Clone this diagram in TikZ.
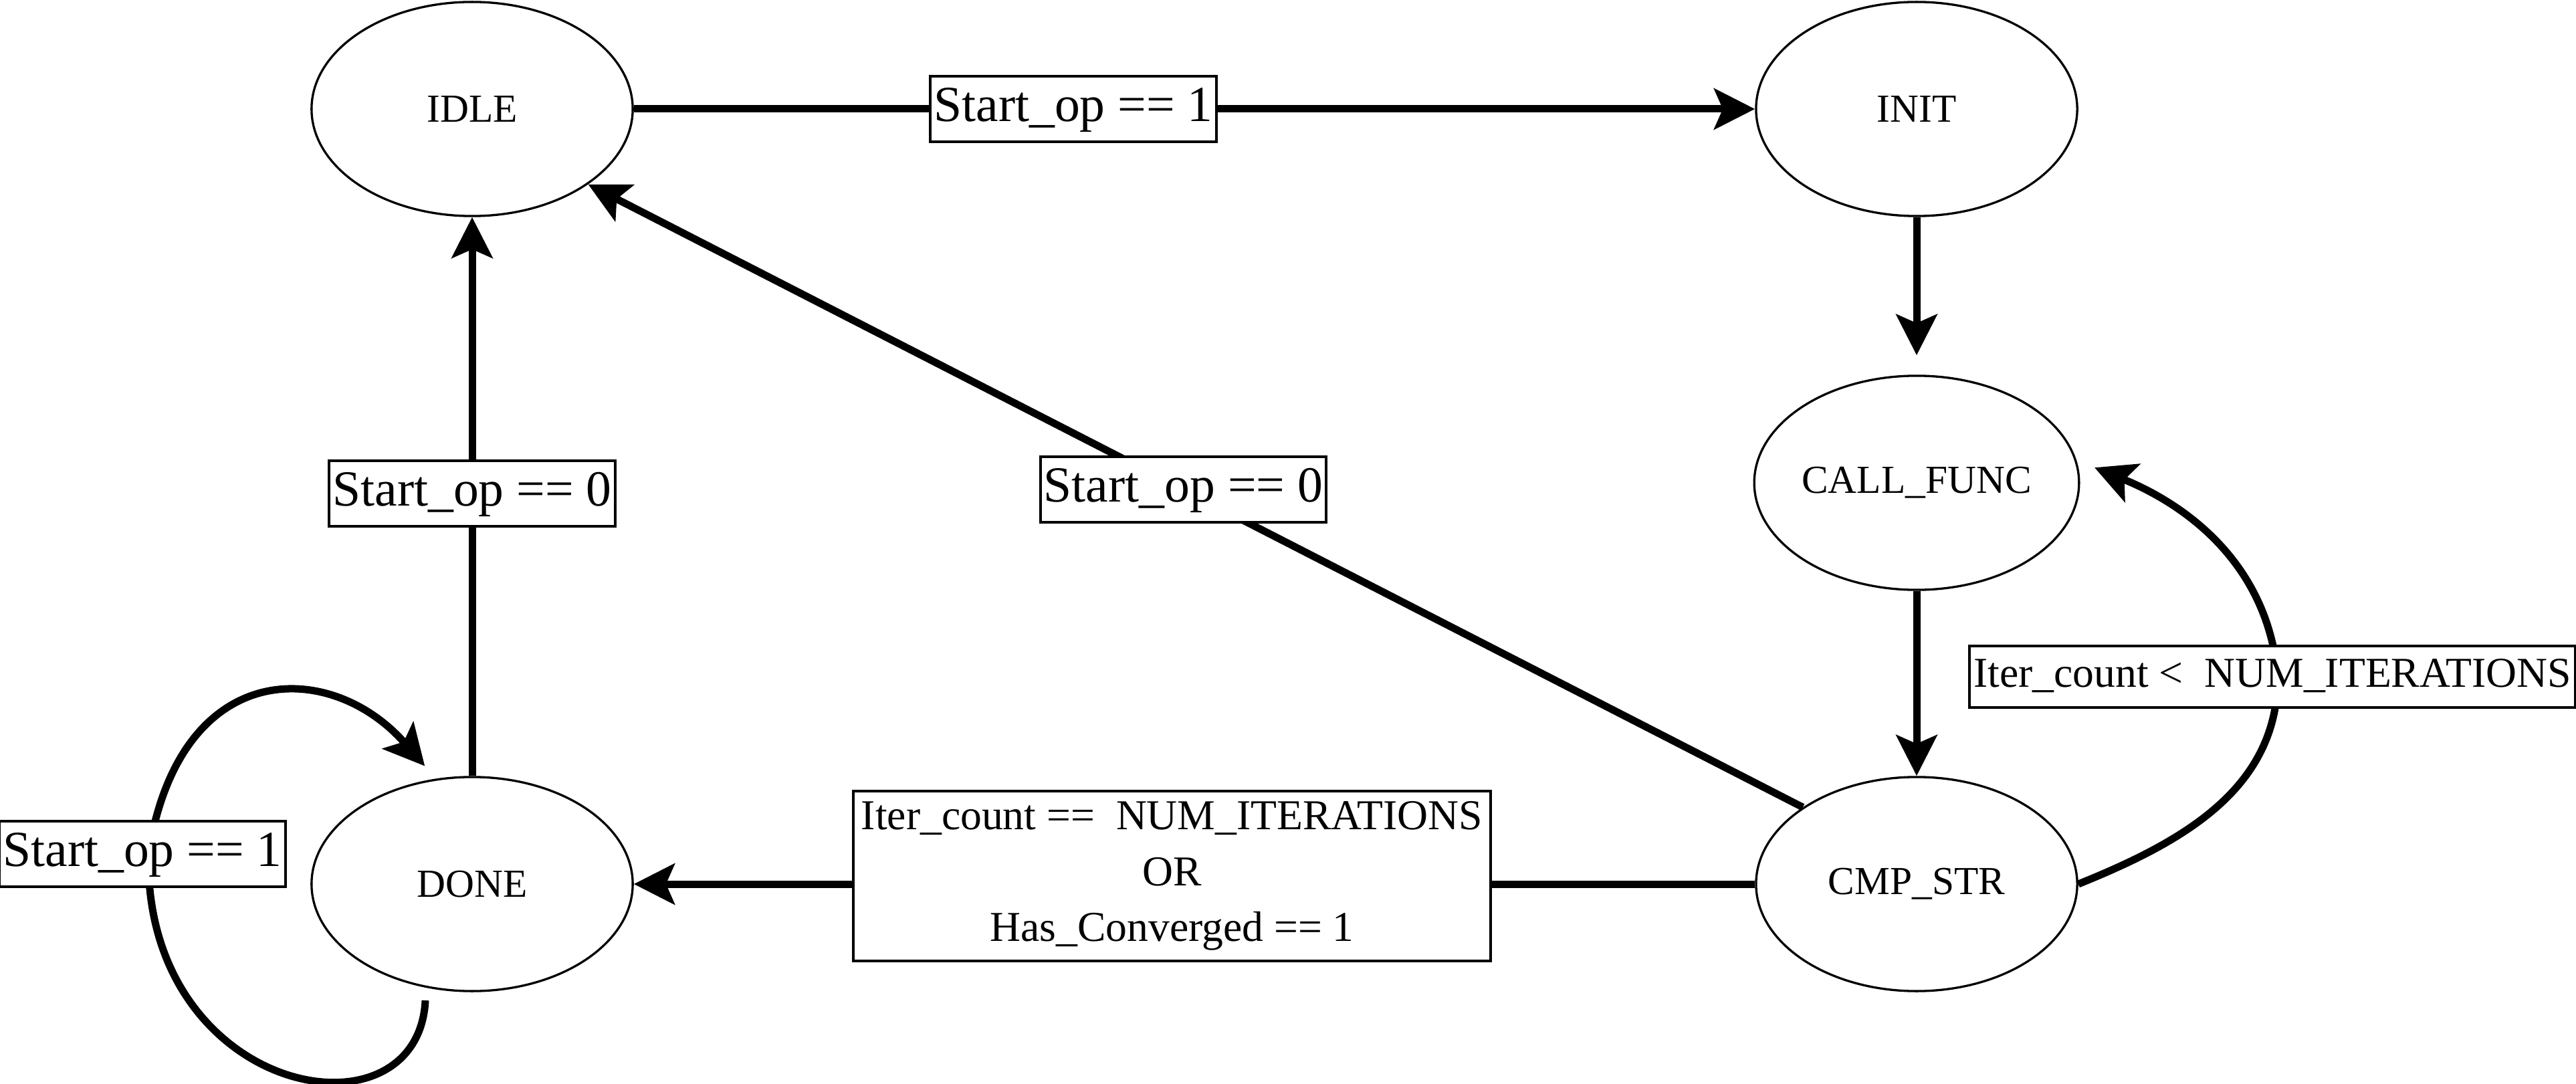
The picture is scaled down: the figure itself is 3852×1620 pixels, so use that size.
\documentclass[tikz,border=0pt]{standalone}
\usepackage{fontspec}
\setmainfont{Liberation Serif}
\usetikzlibrary{arrows.meta,shapes.geometric}
\tikzset{
  state/.style={ellipse, draw, line width=0.033cm, fill=white, minimum width=4.8cm, minimum height=3.2cm, inner sep=0pt, font=\fontsize{16.9}{20}\selectfont},
  edge/.style={draw, line width=0.11cm, -{Stealth[length=0.61cm, width=0.61cm, inset=0.13cm]}},
  lab/.style={draw, line width=0.04cm, fill=white, font=\fontsize{21.5}{26}\selectfont, inner xsep=0.05cm, inner ysep=0.15cm, text height=0.52cm, text depth=0.16cm},
  labi/.style={draw, line width=0.04cm, fill=white, font=\fontsize{18.1}{22}\selectfont, inner xsep=0.06cm, inner ysep=0.17cm, text height=0.44cm, text depth=0.13cm},
  labm/.style={draw, line width=0.04cm, fill=white, font=\fontsize{18.1}{23.7}\selectfont, align=center, inner xsep=0.12cm, inner ysep=0.16cm}
}
\begin{document}
\begin{tikzpicture}[x=0.01cm, y=0.01cm]
\useasboundingbox (0,0) rectangle (3852,1620);
\node[state] (idle) at (706,1457) {IDLE};
\node[state] (init) at (2866,1457) {INIT};
\node[state] (cf) at (2866,898) {CALL\_FUNC};
\node[state] (cmp) at (2866,298) {CMP\_STR};
\node[state] (done) at (706,298) {DONE};

\draw[edge] (idle) -- node[lab, pos=0.392] (l1) {Start\_op == 1} (init);
\draw[edge, shorten >=0.29cm] (init) -- (cf);
\draw[edge] (cf) -- (cmp);
\draw[edge] (cmp) -- node[labm, pos=0.52, yshift=0.12cm] (l2) {Iter\_count == \ NUM\_ITERATIONS\\OR\\Has\_Converged == 1} (done);
\draw[edge] (done) -- node[lab, pos=0.505] (l3) {Start\_op == 0} (idle);
\draw[edge] (cmp.146.3) -- node[lab, pos=0.51] (l4) {Start\_op == 0} (idle.-33.2);
\draw[edge, shorten >=0.29cm] (cmp.east) to[out=22, in=-90] (3406,608) node[labi, xshift=-0.08cm] (l5) {Iter\_count < \ NUM\_ITERATIONS} to[out=95, in=-22] (cf.8);
\draw[edge, shorten <=0.19cm, shorten >=0.25cm] (done.246) .. controls (625,-95) and (215,-20) .. (222,343) node[lab, xshift=-0.09cm] (l6) {Start\_op == 1} .. controls (269,639) and (495,635) .. (done.109);
\end{tikzpicture}
\end{document}
